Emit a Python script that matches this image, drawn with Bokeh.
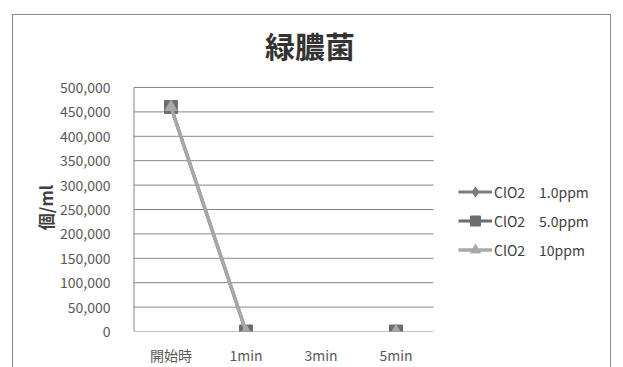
import numpy as np
from bokeh.plotting import figure
from bokeh.models import (Legend, LegendItem, Label, NumeralTickFormatter,
                          FixedTicker, Range1d)
from bokeh.embed import file_html
from bokeh.resources import INLINE

# Sampling points and counts (cells/ml) of Pseudomonas aeruginosa
categories = ["開始時", "1min", "3min", "5min"]
clo2_1ppm = [460000, 0, np.nan, 0]
clo2_5ppm = [460000, 0, np.nan, 0]
clo2_10ppm = [460000, 0, np.nan, 0]
series_labels = ["ClO2\u30001.0ppm", "ClO2\u30005.0ppm", "ClO2\u300010ppm"]
y_ticks = [0, 50000, 100000, 150000, 200000, 250000, 300000, 350000, 400000, 450000, 500000]
title_text = "緑膿菌"
y_label = "個/ml"

FONT = "Noto Sans CJK JP"
GRID = "#878787"

# layout in pixels: the plotting area is 300 x 244, the frame is extended to the
# right and upwards so that legend and title share the same canvas
W, H = 599, 360
LEFT, BOTTOM = 120, 44
AREA_W, AREA_H = 300, 244
frame_w = W - LEFT
frame_h = H - BOTTOM
n = len(categories)
x_pos = np.arange(n) + 0.5            # category centres
x_end = n * frame_w / AREA_W
y_max = y_ticks[-1]
y_end = y_max * frame_h / AREA_H

p = figure(
    x_range=Range1d(0, x_end), y_range=Range1d(0, y_end),
    width=W, height=H,
    min_border_left=LEFT, min_border_right=0,
    min_border_top=0, min_border_bottom=BOTTOM,
    output_backend="svg", toolbar_location=None,
)
p.styles = {
    "margin-left": "12px",
    "margin-top": "14px",
    "border": "1.5px solid #8a8a8a",
}
p.outline_line_color = None
p.background_fill_color = "white"
p.border_fill_color = "white"
p.xgrid.grid_line_color = None
p.ygrid.grid_line_color = None

# axes (lines are drawn as segments limited to the plotting area)
p.yaxis.ticker = FixedTicker(ticks=y_ticks)
p.yaxis.formatter = NumeralTickFormatter(format="0,0")
p.xaxis.ticker = FixedTicker(ticks=list(x_pos))
p.xaxis.major_label_overrides = {float(x): c for x, c in zip(x_pos, categories)}
for ax in (p.xaxis, p.yaxis):
    ax.axis_line_color = None
    ax.major_tick_line_color = None
    ax.minor_tick_line_color = None
    ax.major_label_text_font = FONT
    ax.major_label_text_font_size = "14px"
    ax.major_label_text_color = "#595959"
p.yaxis.major_label_standoff = 17
p.xaxis.major_label_standoff = 7
# trailing ideographic spaces keep the label centred on the value range
p.yaxis.axis_label = y_label + "\u3000" * 4
p.yaxis.axis_label_text_font = FONT
p.yaxis.axis_label_text_font_size = "17px"
p.yaxis.axis_label_text_font_style = "bold"
p.yaxis.axis_label_text_color = "#404040"
p.yaxis.axis_label_standoff = -1

# horizontal gridlines and value axis line
p.segment(x0=0, x1=n, y0=y_ticks, y1=y_ticks, line_color=GRID, line_width=1)
p.segment(x0=0, x1=0, y0=0, y1=y_max, line_color=GRID, line_width=2)

# series
styles = [
    (clo2_1ppm, "#7d7d7d", "diamond", 12, 3),
    (clo2_5ppm, "#6d6d6d", "square", 13, 3),
    (clo2_10ppm, "#a8a8a8", "triangle", 12, 3.5),
]
items = []
for (vals, color, marker, size, lw), label in zip(styles, series_labels):
    y = np.array(vals, dtype=float)
    lr = p.line(x=x_pos, y=y, line_color=color, line_width=lw)
    sr = p.scatter(x=x_pos, y=y, marker=marker, size=size,
                   fill_color=color, line_color=color)
    items.append(LegendItem(label=label, renderers=[lr, sr]))

legend = Legend(
    items=items, location=(AREA_W + 25, 69),
    label_text_font=FONT, label_text_font_size="14px",
    label_text_color="#404040",
    glyph_width=34, glyph_height=25, label_height=20,
    label_standoff=2, spacing=4, padding=0, margin=0,
    border_line_color=None, background_fill_alpha=0,
)
p.add_layout(legend, "center")

# chart title
title = Label(
    x=2.353, y=587000, text=title_text,
    text_font=FONT, text_font_size="30px", text_font_style="bold",
    text_color="#333333", text_align="center", text_baseline="middle",
)
p.add_layout(title)

open("out.html", "w").write(file_html(p, INLINE))
